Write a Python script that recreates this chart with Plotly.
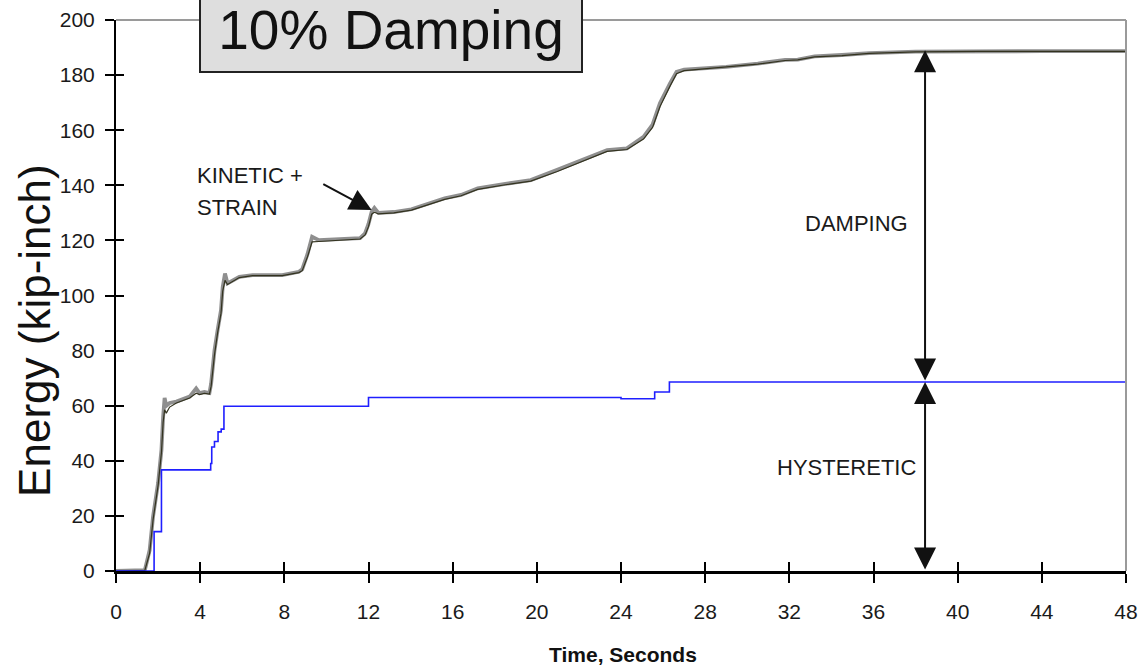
import plotly.graph_objects as go

# ---------------- data ----------------
time_top = [0, 1.37, 1.6, 1.76, 2.0, 2.16, 2.24, 2.31, 2.39, 2.55, 2.87, 3.2, 3.5, 3.81, 3.97, 4.2,
            4.44, 4.52, 4.68, 4.83, 4.99, 5.07, 5.18, 5.3, 5.86, 6.49, 7.9, 8.69, 8.85, 9.1,
            9.32, 9.64, 10.5, 11.6, 11.84, 12.0, 12.15, 12.28, 12.47, 13.2, 14.04, 14.8, 15.62,
            16.4, 17.19, 18.5, 19.71, 20.97, 21.92, 22.6, 23.34, 24.28, 25.07, 25.5, 25.85,
            26.33, 26.64, 27.0, 27.6, 29.0, 30.5, 31.8, 32.4, 33.2, 34.5, 35.8, 38.0, 41.0,
            44.0, 48.0]
energy_input = [0, 0.3, 7.6, 19.7, 31.9, 43.9, 56, 62.8, 60, 61, 61.5, 62.5, 63.3, 66.3, 64.6, 65,
                64.6, 68, 80, 87.5, 94.7, 103, 108, 104.4, 106.8, 107.4, 107.4, 108.6, 109.5, 115,
                121.3, 120.1, 120.4, 120.8, 122.6, 126, 130.4, 131.8, 130, 130.3, 131.3, 133.2, 135.3,
                136.5, 138.9, 140.5, 141.9, 145.6, 148.6, 150.5, 152.8, 153.4, 157.6, 162, 169.8,
                177, 181.2, 182, 182.2, 183, 184.2, 185.5, 185.6, 186.8, 187.3, 188, 188.5, 188.7,
                188.7, 188.7]
energy_kinetic_strain = [0, 0.2, 6.5, 18.5, 31.0, 43.0, 54, 58.5, 57.3, 59.5, 61, 62, 62.8, 64.5, 64.0, 64.5,
                         64.2, 67, 78.5, 86.5, 93.5, 101.5, 105.5, 104.0, 106.5, 107.2, 107.2, 108.3, 109.0, 114,
                         119.5, 119.6, 120.0, 120.5, 122.0, 125, 129.5, 130.2, 129.6, 130.0, 131.0, 132.8, 134.9,
                         136.2, 138.5, 140.2, 141.5, 145.0, 148.0, 150.0, 152.3, 153.0, 156.8, 161, 168.5,
                         176, 180.5, 181.6, 182.0, 182.8, 184.0, 185.3, 185.5, 186.6, 187.1, 187.9, 188.4, 188.6,
                         188.6, 188.6]

time_hyst = [0, 1.81, 2.16, 4.50, 4.55, 4.68, 4.85, 5.00, 5.13, 12.0, 24.0, 25.6, 26.3, 48.0]
energy_hyst = [0, 14.3, 36.7, 39.0, 45.0, 47.0, 50.5, 51.5, 59.8, 63.0, 62.5, 65.0, 68.6, 68.6]

x_ticks = [0, 4, 8, 12, 16, 20, 24, 28, 32, 36, 40, 44, 48]
y_ticks = [0, 20, 40, 60, 80, 100, 120, 140, 160, 180, 200]

arrow_time = 38.45
damping_top = 189.0
hyst_level = 68.6

FONT = "Liberation Sans, Arial, sans-serif"
TXT = "#1a1a1a"

fig = go.Figure()
fig.add_trace(go.Scatter(x=time_top, y=energy_input, mode="lines",
                         line=dict(color="#8f8f8f", width=3.8), showlegend=False, hoverinfo="skip"))
fig.add_trace(go.Scatter(x=time_top, y=energy_kinetic_strain, mode="lines",
                         line=dict(color="#33331f", width=1.2), showlegend=False, hoverinfo="skip"))
fig.add_trace(go.Scatter(x=time_hyst, y=energy_hyst, mode="lines", line_shape="hv",
                         line=dict(color="#1f1fff", width=1.6), showlegend=False, hoverinfo="skip"))
# helper traces so the cross-tick overlay axes exist
fig.add_trace(go.Scatter(x=[], y=[], xaxis="x2", yaxis="y", showlegend=False))
fig.add_trace(go.Scatter(x=[], y=[], xaxis="x", yaxis="y2", showlegend=False))

axis_common = dict(showgrid=False, zeroline=False, automargin=False)
fig.update_layout(
    width=1142, height=667,
    margin=dict(l=116, r=16, t=20, b=96, autoexpand=False),
    paper_bgcolor="white", plot_bgcolor="white",
    font=dict(family=FONT, color=TXT),
    xaxis=dict(range=[0, 48], tickmode="array", tickvals=x_ticks, ticktext=[str(v) for v in x_ticks],
               ticks="outside", ticklen=9, tickwidth=1.5, tickcolor="black",
               showline=True, linecolor="black", linewidth=2.5, ticklabeloverflow="allow",
               tickfont=dict(size=21, family=FONT, color=TXT), ticklabelstandoff=11, **axis_common),
    yaxis=dict(range=[0, 200], tickmode="array", tickvals=y_ticks, ticktext=[str(v) for v in y_ticks],
               ticks="outside", ticklen=9, tickwidth=1.5, tickcolor="black",
               showline=True, linecolor="black", linewidth=2, ticklabeloverflow="allow",
               tickfont=dict(size=21, family=FONT, color=TXT), ticklabelstandoff=6, **axis_common),
    xaxis2=dict(overlaying="x", anchor="y", matches="x", range=[0, 48], tickmode="array", tickvals=x_ticks,
                ticks="inside", ticklen=9, tickwidth=1.5, tickcolor="black", showticklabels=False,
                showline=False, side="bottom", **axis_common),
    yaxis2=dict(overlaying="y", anchor="x", matches="y", range=[0, 200], tickmode="array", tickvals=y_ticks,
                ticks="inside", ticklen=8, tickwidth=1.5, tickcolor="black", showticklabels=False,
                showline=False, side="left", **axis_common),
    shapes=[
        dict(type="line", xref="paper", yref="paper", x0=0, x1=1, y0=1, y1=1,
             line=dict(color="#9a9a9a", width=2)),
        dict(type="line", xref="paper", yref="paper", x0=1, x1=1, y0=0, y1=1,
             line=dict(color="#9a9a9a", width=2)),
    ],
)

ann = []
# title box
ann.append(dict(text="10% Damping", xref="paper", yref="paper", x=0.2718, y=0.904,
                xanchor="center", yanchor="bottom", showarrow=False,
                font=dict(size=55, family=FONT, color="#111"),
                bgcolor="#dedede", bordercolor="#222", borderwidth=2, borderpad=0,
                width=380, height=82))
# axis titles
ann.append(dict(text="Energy (kip-inch)", xref="paper", yref="paper", x=-0.0805, y=0.437,
                textangle=-90, showarrow=False, xanchor="center", yanchor="middle",
                font=dict(size=44, family=FONT, color="#111")))
ann.append(dict(text="<b>Time, Seconds</b>", xref="paper", yref="paper", x=0.5015, y=-0.152,
                showarrow=False, xanchor="center", yanchor="middle",
                font=dict(size=21, family=FONT, color="#111")))
# kinetic + strain label and arrow
ann.append(dict(text="KINETIC +", x=3.75, y=143.6, xref="x", yref="y", xanchor="left",
                yanchor="middle", showarrow=False, font=dict(size=22, family=FONT, color=TXT)))
ann.append(dict(text="STRAIN", x=3.75, y=131.9, xref="x", yref="y", xanchor="left",
                yanchor="middle", showarrow=False, font=dict(size=22, family=FONT, color=TXT)))
ann.append(dict(text="", x=12.15, y=131.0, ax=9.78, ay=140.7, xref="x", yref="y",
                axref="x", ayref="y", showarrow=True, arrowhead=2, arrowsize=2.2,
                arrowwidth=2, arrowcolor="#111", standoff=0))
# damping double arrow
ann.append(dict(text="", x=arrow_time, y=damping_top, ax=arrow_time, ay=hyst_level, xref="x", yref="y",
                axref="x", ayref="y", showarrow=True, arrowhead=2, startarrowhead=2,
                arrowside="end+start", arrowsize=2.2, startarrowsize=2.2,
                arrowwidth=2, arrowcolor="#111", standoff=0, startstandoff=0))
# hysteretic double arrow
ann.append(dict(text="", x=arrow_time, y=hyst_level, ax=arrow_time, ay=0, xref="x", yref="y",
                axref="x", ayref="y", showarrow=True, arrowhead=2, startarrowhead=2,
                arrowside="end+start", arrowsize=2.2, startarrowsize=2.2,
                arrowwidth=2, arrowcolor="#111", standoff=0, startstandoff=0))
ann.append(dict(text="DAMPING", x=35.2, y=126.3, xref="x", yref="y", showarrow=False,
                xanchor="center", yanchor="middle", font=dict(size=22, family=FONT, color=TXT)))
ann.append(dict(text="HYSTERETIC", x=34.7, y=37.4, xref="x", yref="y", showarrow=False,
                xanchor="center", yanchor="middle", font=dict(size=22, family=FONT, color=TXT)))
fig.update_layout(annotations=ann)

fig.write_html("out.html", config={"displayModeBar": False},
               post_script="document.body.style.margin='0';document.body.style.padding='0';")
